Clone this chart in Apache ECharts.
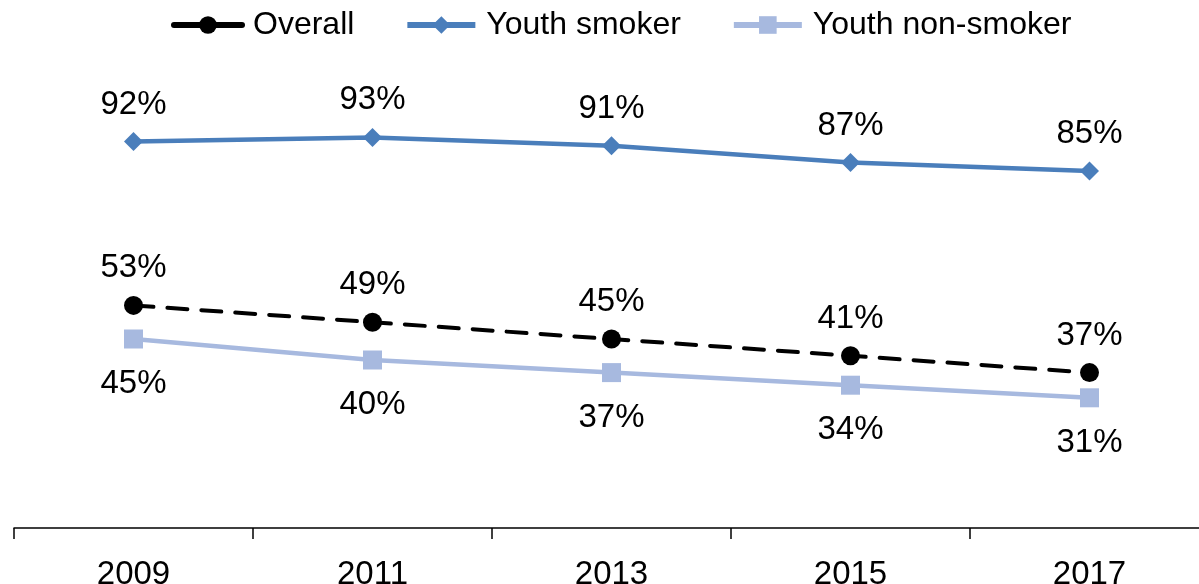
<!DOCTYPE html>
<html>
<head>
<meta charset="utf-8">
<script src="https://cdn.jsdelivr.net/npm/echarts@6/dist/echarts.min.js"></script>
<style>html,body{margin:0;padding:0;background:#fff}#c{width:1199px;height:584px}</style>
</head>
<body>
<div id="c"></div>
<script>
const years = ['2009', '2011', '2013', '2015', '2017'];
const overall = [53, 49, 45, 41, 37];
const youthSmoker = [92, 93, 91, 87, 85];
const youthNonSmoker = [45, 40, 37, 34, 31];

const FONT = 'Liberation Sans';
const chart = echarts.init(document.getElementById('c'));
const lbl = (pos, dist) => ({
  show: true, position: pos, distance: dist,
  formatter: p => p.value + '%',
  fontFamily: FONT, fontSize: 33, color: '#000'
});
chart.setOption({
  animation: false,
  textStyle: { fontFamily: FONT },
  legend: {
    top: 4, left: 166, itemGap: 50, itemWidth: 68, itemHeight: 22,
    lineStyle: { width: 6 },
    textStyle: { fontFamily: FONT, fontSize: 32, color: '#000', padding: [0, 0, 0, 6] },
    data: [
      { name: 'Overall', lineStyle: { type: 'solid', width: 6, cap: 'round' } },
      { name: 'Youth smoker' },
      { name: 'Youth non-smoker' }
    ]
  },
  grid: { left: 14, width: 1195, top: 108, height: 420, outerBoundsMode: 'none', containLabel: false },
  xAxis: {
    type: 'category', data: years, boundaryGap: true,
    axisLine: { lineStyle: { color: '#000', width: 1.5 } },
    axisTick: { show: true, length: 11, lineStyle: { color: '#000', width: 1.5 } },
    axisLabel: { fontFamily: FONT, fontSize: 33, color: '#000', margin: 30 }
  },
  yAxis: { type: 'value', min: 0, max: 100, show: false, splitLine: { show: false } },
  series: [
    {
      name: 'Overall', type: 'line', data: overall,
      symbol: 'circle', symbolSize: 19,
      itemStyle: { color: '#000' },
      lineStyle: { color: '#000', width: 4, type: [20, 14], cap: 'round' },
      label: lbl('top', 11), z: 3
    },
    {
      name: 'Youth smoker', type: 'line', data: youthSmoker,
      symbol: 'diamond', symbolSize: 19,
      itemStyle: { color: '#4A7EBB' },
      lineStyle: { color: '#4A7EBB', width: 4.5 },
      label: lbl('top', 11)
    },
    {
      name: 'Youth non-smoker', type: 'line', data: youthNonSmoker,
      symbol: 'rect', symbolSize: 19,
      itemStyle: { color: '#A7B9DF' },
      lineStyle: { color: '#A7B9DF', width: 4.5 },
      label: lbl('bottom', 19)
    }
  ]
});
</script>
</body>
</html>
